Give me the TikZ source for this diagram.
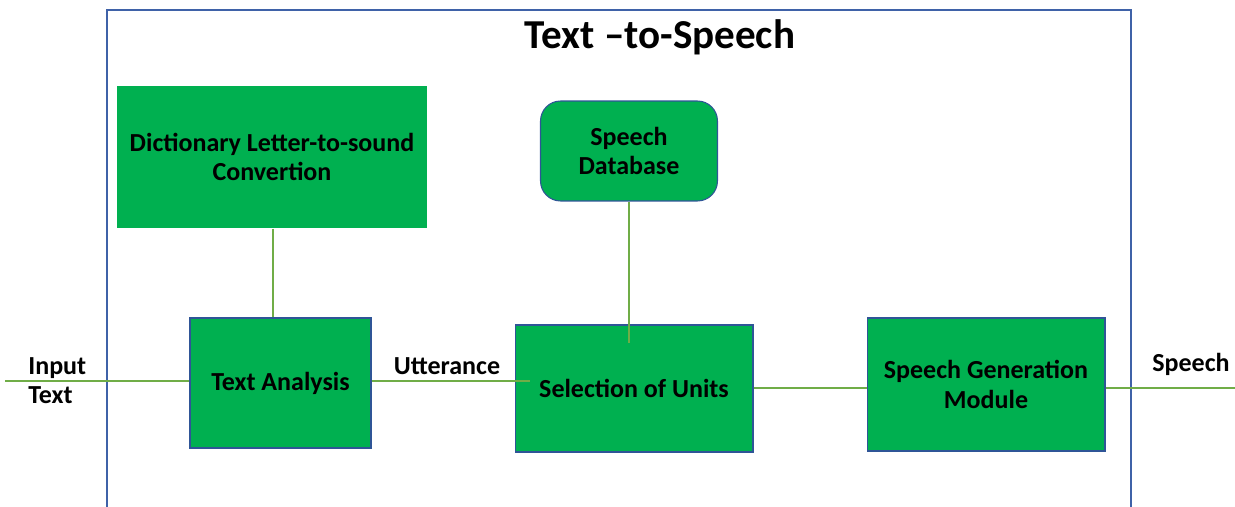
\documentclass[tikz,border=0pt]{standalone}
\usepackage{fontspec}
\setmainfont{Carlito}
\definecolor{boxgreen}{HTML}{00B050}
\definecolor{boxblue}{HTML}{2F5597}
\definecolor{framblue}{HTML}{3F62A8}
\definecolor{linegreen}{HTML}{70AD47}
\begin{document}
\begin{tikzpicture}[x=0.02cm, y=-0.02cm,
    block/.style={draw=boxblue, line width=0.6pt, fill=boxgreen, inner sep=0pt, align=center,
                  font=\fontsize{14.8}{16.6}\selectfont\bfseries},
    link/.style={draw=linegreen, line width=1pt},
    lbl/.style={font=\fontsize{14.8}{16.6}\selectfont\bfseries, inner sep=0pt}]
    \useasboundingbox (0,0) rectangle (1235,507);

    % Marco del sistema
    \draw[framblue, line width=1pt] (107,507) -- (107,10) -- (1131,10) -- (1131,507);
    \node (title) at (660,37) {\fontsize{23.4}{27}\selectfont\bfseries Text --to-Speech};

    % Bloques
    \node[block, draw=none, minimum width=6.2cm, minimum height=2.84cm] (dict) at (272,157)
        {Dictionary Letter-to-sound\\Convertion};
    \node[block, minimum width=3.62cm, minimum height=2.6cm] (analysis) at (280.5,383) {Text Analysis};
    \node[block, rounded corners=0.4cm, minimum width=3.54cm, minimum height=2cm] (db) at (629,151)
        {Speech\\Database};
    \node[block, minimum width=4.76cm, minimum height=2.54cm] (units) at (634,388.5) {Selection of Units};
    \node[block, minimum width=4.76cm, minimum height=2.66cm] (gen) at (986,384.5)
        {Speech Generation\\Module};

    % Extremos libres
    \coordinate (in)   at (5,381);
    \coordinate (utt)  at (530,381);
    \coordinate (dbend) at (629,343);
    \coordinate (out)  at (1235,388);

    % Conexiones
    \draw[link] (in) -- (analysis.west |- in);
    \draw[link] (analysis.east |- in) -- (utt);
    \draw[link] (dict.south -| 273,0) -- (analysis.north -| 273,0);
    \draw[link] (db.south) -- (dbend);
    \draw[link] (units.east |- out) -- (gen.west |- out);
    \draw[link] (gen.east |- out) -- (out);

    % Etiquetas
    \node[lbl, align=left, anchor=west] (inlbl) at (28,381) {Input\\Text};
    \node[lbl] (uttlbl) at (447,366) {Utterance};
    \node[lbl] (outlbl) at (1191,364) {Speech};
\end{tikzpicture}
\end{document}
